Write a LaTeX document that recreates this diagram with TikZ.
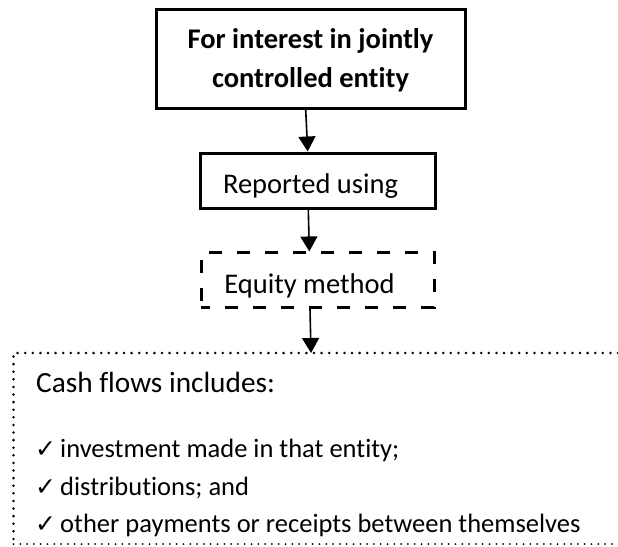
\documentclass[tikz,border=0pt]{standalone}
\usepackage{fontspec}
\setmainfont{Carlito}[Ligatures=CommonOff]
\newfontfamily\symfont{DejaVu Sans}
\usetikzlibrary{arrows.meta}

\tikzset{
  dashbox/.style={draw, line width=3pt, dash pattern=on 13pt off 15pt, dash phase=4pt},
  dotline/.style={line width=2.8pt, line cap=round, dash pattern=on 0pt off 7.6pt},
  thindots/.style={line width=2pt, line cap=round, dash pattern=on 0pt off 6.8pt},
  flow/.style={line width=1.6pt, -{Triangle[width=17pt,length=15pt]}},
  boxtext/.style={anchor=base, inner sep=0pt, font=\fontsize{28.5}{39}\selectfont},
  headtext/.style={anchor=base west, inner sep=0pt, font=\fontsize{29.3}{39}\selectfont},
  itemtext/.style={anchor=base west, inner sep=0pt, font=\fontsize{26.5}{36}\selectfont},
  tick/.style={anchor=base west, inner sep=0pt, font=\symfont\fontsize{25}{28}\selectfont}
}

\begin{document}
\begin{tikzpicture}[x=1pt,y=-1pt]
\useasboundingbox (0,0) rectangle (618,546);

% boxes
\node[draw, line width=3pt, minimum width=309pt, minimum height=99pt, inner sep=0pt] (entity) at (310.5,58.5) {};
\node[draw, line width=3pt, minimum width=235pt, minimum height=55pt, inner sep=0pt] (reported) at (317.5,180.5) {};
\node[dashbox, minimum width=233pt, minimum height=54.5pt, inner sep=0pt] (equity) at (317.5,280.2) {};

% box texts
\node[boxtext, font=\bfseries\fontsize{28.5}{39}\selectfont] (t1) at (310.5,48) {For interest in jointly};
\node[boxtext, font=\bfseries\fontsize{28.5}{39}\selectfont] (t2) at (310.5,87) {controlled entity};
\node[boxtext] (t3) at (310.5,193) {Reported using};
\node[boxtext] (t4) at (309.5,293) {Equity method};

% open dotted frame running off the right edge
\coordinate (cashtop) at (311,353);
\draw[dotline] (618,353) -- (13.5,353) -- (13.5,544);
\draw[thindots] (13.5,544) -- (618,544);

\node[headtext] (cash) at (36,392) {Cash flows includes:};
\node[tick] (k1) at (35,457) {✓};
\node[itemtext] (i1) at (60,457) {investment made in that entity;};
\node[tick] (k2) at (35,495) {✓};
\node[itemtext] (i2) at (60,495) {distributions; and};
\node[tick] (k3) at (35,532) {✓};
\node[itemtext] (i3) at (60,532) {other payments or receipts between themselves};

% connectors
\draw[flow] ([xshift=-4.8pt]entity.south) -- ([xshift=-9.8pt]reported.north);
\draw[flow] ([xshift=-9.2pt]reported.south) -- ([xshift=-8.2pt]equity.north);
\draw[flow] (equity.south -| 310,0) -- (cashtop);
\end{tikzpicture}
\end{document}
